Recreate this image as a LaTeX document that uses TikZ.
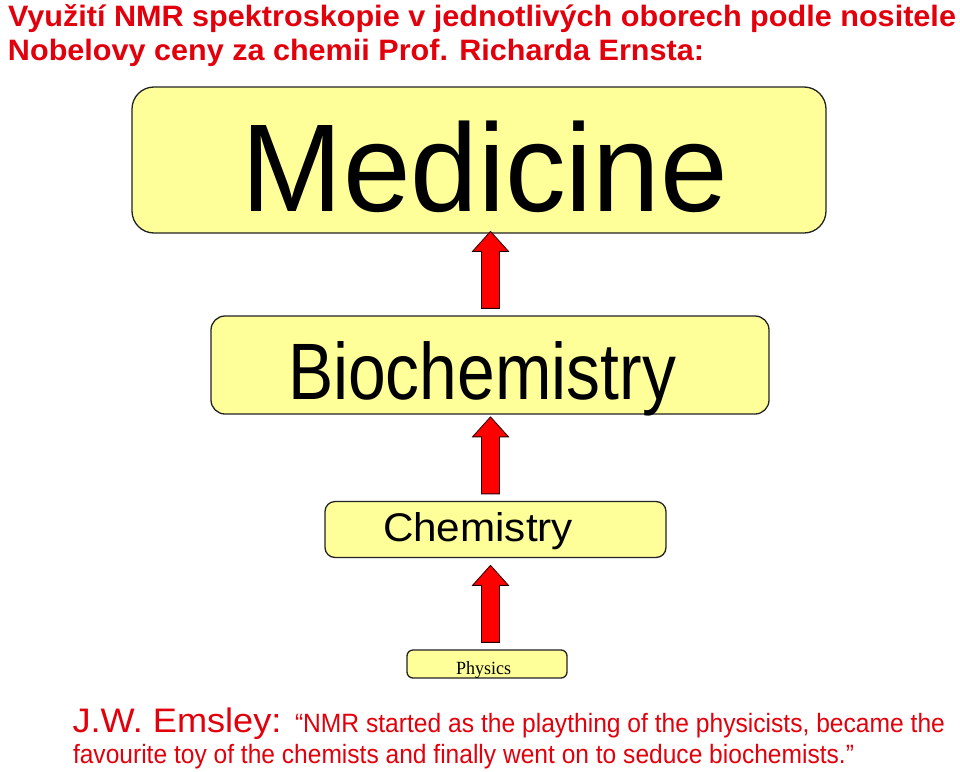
\documentclass[tikz,border=0pt]{standalone}
\usepackage{fontspec}
\usepackage{graphicx}
\setmainfont{Liberation Sans}
\newfontfamily\timesf{Liberation Serif}
\definecolor{boxfill}{RGB}{255,255,153}
\definecolor{boxline}{RGB}{35,35,35}
\definecolor{textred}{RGB}{226,0,12}
\definecolor{arrred}{RGB}{255,0,0}
\newcommand\fitw[3]{\resizebox{#1pt}{\height}{\fontsize{#2pt}{#2pt}\selectfont #3}}
\newcommand\uparr[2]{% #1 = source (lower) node, #2 = target (upper) node
  \coordinate (ab-#1) at (490.5,0 |- #1.north);
  \draw[blockarrow] ([yshift=7pt]ab-#1) ++(-9,0) -- ++(0,-57) -- ++(-9,0)
     -- ++(18,-20) -- ++(18,20) -- ++(-9,0) -- ++(0,57) -- cycle;}
\begin{document}
\begin{tikzpicture}[x=1pt,y=-1pt,
  field/.style={draw=boxline, fill=boxfill, line width=1.3pt, inner sep=0pt},
  txt/.style={inner sep=0pt, outer sep=0pt},
  blockarrow/.style={fill=arrred, draw=black!85!red, line width=0.8pt, line join=miter}]
\useasboundingbox (0,0) rectangle (960,771);
\fill[white] (0,0) rectangle (960,771);

% title
\node[txt, anchor=base west, text=textred] (title1) at (8,26)
  {\fitw{948}{29.5}{\bfseries Využití NMR spektroskopie v jednotlivých oborech podle nositele}};
\node[txt, anchor=base west, text=textred] (title2) at (8,60)
  {\fitw{696}{29.5}{\bfseries Nobelovy ceny za chemii Prof. Richarda Ernsta:}};

% boxes
\node[field, rounded corners=22pt, minimum width=694pt, minimum height=146pt] (med) at (479,160) {};
\node[field, rounded corners=14pt, minimum width=558pt, minimum height=98pt] (bio) at (490,365) {};
\node[field, rounded corners=10pt, minimum width=341pt, minimum height=56pt] (chem) at (495.5,529.5) {};
\node[field, rounded corners=6pt, minimum width=160pt, minimum height=28pt] (phys) at (487,664) {};

% box texts
\node[txt, anchor=base] (medT) at (485,211.5) {\fitw{486}{125}{Medicine}};
\node[txt, anchor=base] (bioT) at (482,399.5) {\fitw{388}{80}{Biochemistry}};
\node[txt, anchor=base] (chemT) at (478,541.7) {\fitw{190}{40}{Chemistry}};
\node[txt, anchor=base] (physT) at (483.5,674) {\fitw{55}{18.6}{\timesf Physics}};

% block arrows
\uparr{bio}{med}
\uparr{chem}{bio}
\uparr{phys}{chem}

% quote
\node[txt, anchor=base west, text=textred] (author) at (72.5,732)
  {\fitw{209}{34}{J.W. Emsley:}};
\node[txt, anchor=base west, text=textred] (quote1) at (295,732)
  {\fitw{650}{26.5}{“NMR started as the plaything of the physicists, became the}};
\node[txt, anchor=base west, text=textred] (quote2) at (73,763.5)
  {\fitw{781}{26.5}{favourite toy of the chemists and finally went on to seduce biochemists.”}};
\end{tikzpicture}
\end{document}
